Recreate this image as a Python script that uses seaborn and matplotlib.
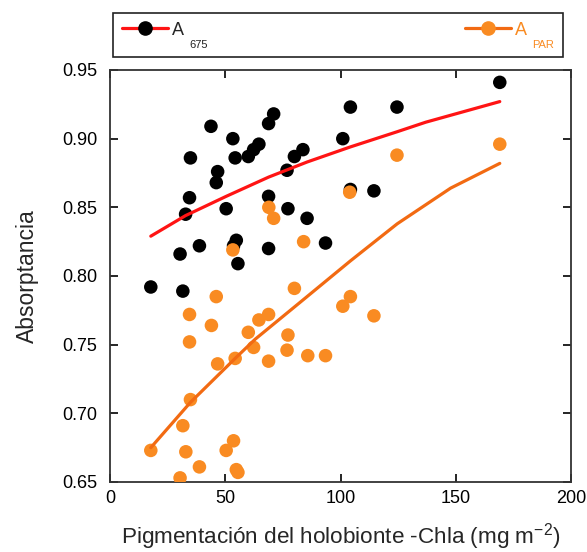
import matplotlib
matplotlib.use("Agg")
import matplotlib.pyplot as plt
import seaborn as sns
import pandas as pd
from matplotlib.lines import Line2D
from matplotlib.patches import Rectangle

# ---- data ----
x675 = [17.7, 31.6, 30.4, 38.8, 32.8, 34.5, 34.9, 43.8, 46.1, 46.7, 50.4, 53.3,
        54.3, 54.8, 53.6, 55.5, 60.0, 62.3, 64.6, 68.8, 71.0, 68.8, 68.8, 77.2,
        76.8, 80.0, 83.7, 85.5, 93.5, 101.0, 104.3, 124.5, 169.1, 104.3, 114.5]
y675 = [0.792, 0.789, 0.816, 0.822, 0.845, 0.857, 0.886, 0.909, 0.868, 0.876,
        0.849, 0.900, 0.886, 0.826, 0.822, 0.809, 0.887, 0.892, 0.896, 0.911,
        0.918, 0.858, 0.820, 0.849, 0.877, 0.887, 0.892, 0.842, 0.824, 0.900,
        0.923, 0.923, 0.941, 0.863, 0.862]

xpar = [17.7, 31.6, 32.9, 30.4, 38.8, 34.9, 34.5, 34.5, 44.0, 46.1, 46.7, 50.4,
        53.6, 54.8, 55.5, 54.3, 60.0, 62.3, 64.6, 68.8, 68.8, 77.2, 76.8, 80.0,
        85.8, 93.5, 101.0, 104.3, 68.9, 71.0, 53.3, 84.0, 104.0, 124.5, 169.1, 114.5]
ypar = [0.673, 0.691, 0.672, 0.653, 0.661, 0.710, 0.752, 0.772, 0.764, 0.785,
        0.736, 0.673, 0.680, 0.659, 0.657, 0.740, 0.759, 0.748, 0.768, 0.772,
        0.738, 0.757, 0.746, 0.791, 0.742, 0.742, 0.778, 0.785, 0.850, 0.842,
        0.819, 0.825, 0.861, 0.888, 0.896, 0.771]

fit675_x = [17.7, 32.8, 50.4, 68.8, 85.5, 104.3, 124.5, 137.0, 169.1]
fit675_y = [0.829, 0.844, 0.858, 0.872, 0.883, 0.894, 0.905, 0.912, 0.927]

fitpar_x = [17.7, 34.9, 54.3, 63.0, 82.6, 104.3, 124.6, 147.8, 169.1]
fitpar_y = [0.675, 0.708, 0.740, 0.754, 0.781, 0.811, 0.838, 0.864, 0.882]

xticks = [0, 50, 100, 150, 200]
yticks = [0.65, 0.70, 0.75, 0.80, 0.85, 0.90, 0.95]

# ---- style ----
sns.set_style("ticks")
plt.rcParams["font.family"] = ["Liberation Sans", "DejaVu Sans"]
plt.rcParams["mathtext.default"] = "regular"

RED = "#FF1414"
ORANGE_LINE = "#F26A12"
ORANGE_DOT = "#F98B22"

W, H = 587, 552
fig = plt.figure(figsize=(W / 100, H / 100), dpi=100)
ax = fig.add_axes([110 / W, 70 / H, 461 / W, 412 / H])

df675 = pd.DataFrame({"x": x675, "y": y675})
dfpar = pd.DataFrame({"x": xpar, "y": ypar})
dff1 = pd.DataFrame({"x": fit675_x, "y": fit675_y})
dff2 = pd.DataFrame({"x": fitpar_x, "y": fitpar_y})

sns.scatterplot(data=df675, x="x", y="y", ax=ax, color="black", s=95,
                edgecolor="none", zorder=3)
sns.scatterplot(data=dfpar, x="x", y="y", ax=ax, color=ORANGE_DOT, s=95,
                edgecolor="none", zorder=3)
sns.lineplot(data=dff1, x="x", y="y", ax=ax, color=RED, lw=2.3,
             sort=False, estimator=None, zorder=4)
sns.lineplot(data=dff2, x="x", y="y", ax=ax, color=ORANGE_LINE, lw=2.3,
             sort=False, estimator=None, zorder=4)

ax.set_xlim(0, 200)
ax.set_ylim(0.65, 0.95)
ax.set_xticks(xticks)
ax.set_yticks(yticks)
ax.set_xticklabels([str(t) for t in xticks])
ax.set_yticklabels([f"{t:.2f}" for t in yticks])
ax.tick_params(direction="in", top=True, right=True, length=6, width=1.2,
               labelsize=13, colors="black")
ax.tick_params(axis="x", pad=6)
ax.tick_params(axis="y", pad=9)
for sp in ax.spines.values():
    sp.set_visible(True)
    sp.set_linewidth(1.3)
    sp.set_color("#333333")

ax.set_xlabel("Pigmentación del holobionte -Chla (mg m$^{-2}$)", fontsize=16.2,
              labelpad=10)
ax.set_ylabel("Absorptancia", fontsize=16.5, labelpad=17)

# ---- legend ----
FS = 13
em = FS * 100 / 72
h1 = Line2D([], [], color=RED, lw=2.3, marker="o", markersize=9.5,
            markerfacecolor="black", markeredgecolor="black")
h2 = Line2D([], [], color=ORANGE_LINE, lw=2.3, marker="o", markersize=9.5,
            markerfacecolor=ORANGE_DOT, markeredgecolor=ORANGE_DOT)
leg = fig.legend([h1, h2], ["A", "A"], ncol=2, loc="upper left",
                 bbox_to_anchor=(122 / W, 1 - 21.6 / H),
                 fontsize=FS, handlelength=46 / em, handletextpad=4 / em,
                 columnspacing=281 / em, frameon=False,
                 borderaxespad=0, borderpad=0)
texts = leg.get_texts()
texts[1].set_color(ORANGE_DOT)
fig.add_artist(Rectangle((113 / W, 1 - 57 / H), 450 / W, 44 / H,
                         transform=fig.transFigure, fill=False,
                         edgecolor="#222222", linewidth=1.2))

fig.canvas.draw()
r = fig.canvas.get_renderer()
for t, sub, c in [(texts[0], "675", "#222222"), (texts[1], "PAR", ORANGE_DOT)]:
    bb = t.get_window_extent(r)
    fig.text((bb.x1 + 5) / fig.bbox.width, (bb.y0 - 9.3) / fig.bbox.height, sub,
             fontsize=8, color=c, ha="left", va="baseline")

fig.savefig("out.png", dpi=100)
